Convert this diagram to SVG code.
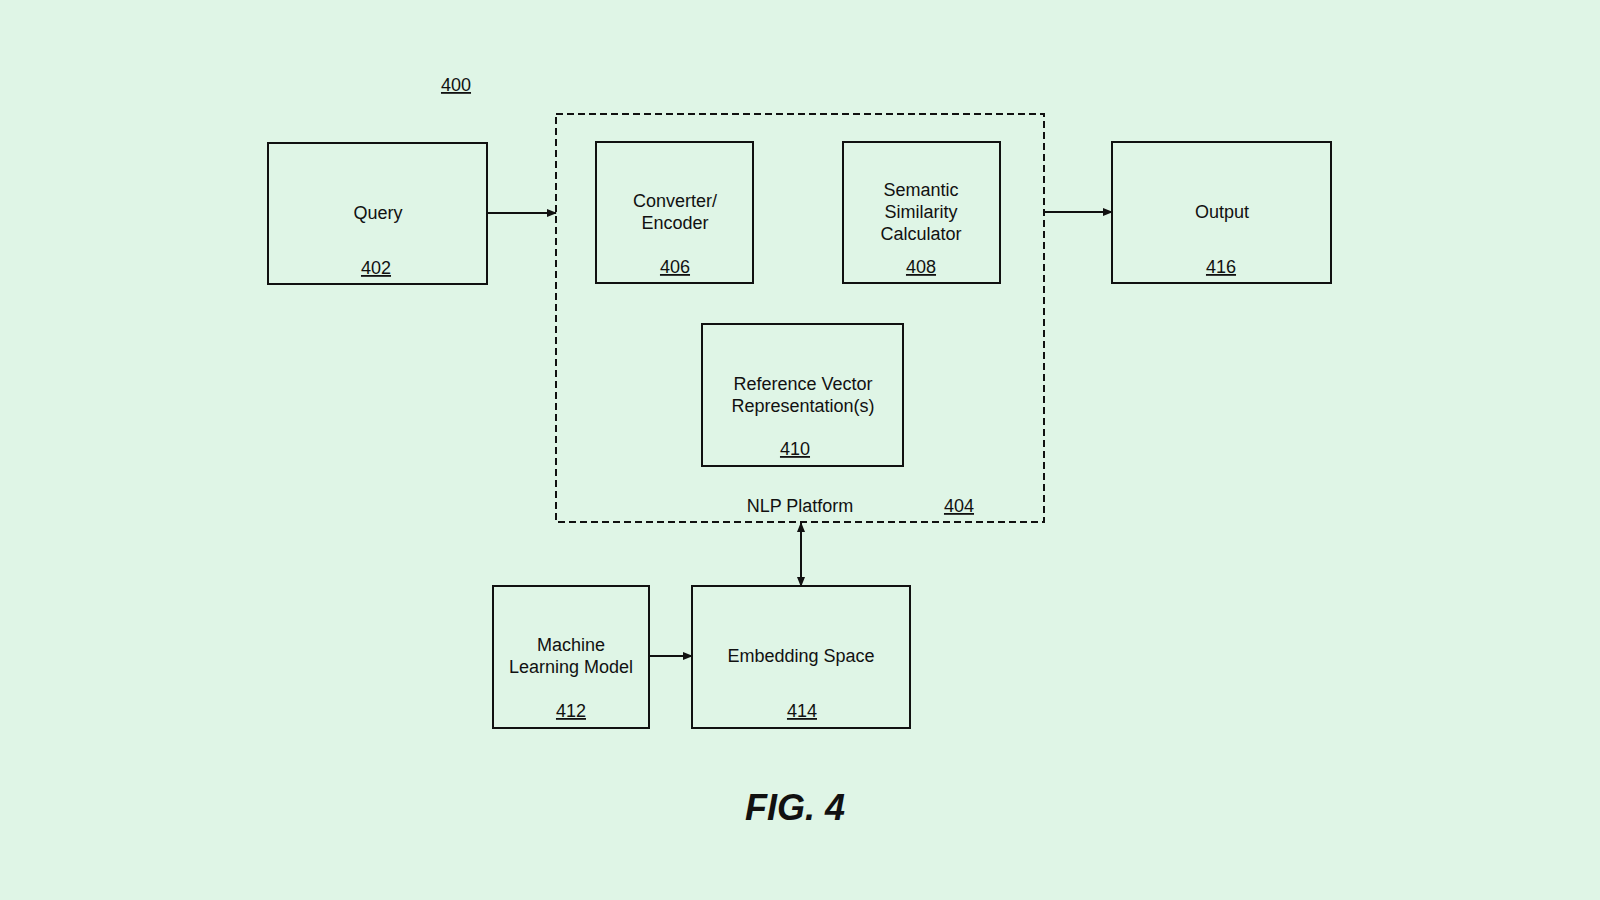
<svg xmlns="http://www.w3.org/2000/svg" width="1600" height="900" viewBox="0 0 1600 900">
<style>
.b{fill:none;stroke:#111;stroke-width:2}
.t{font-family:"Liberation Sans",Arial,sans-serif;font-size:18px;fill:#111;text-anchor:middle}
.n{text-decoration:underline}
.c{stroke:#111;stroke-width:2;fill:none}
</style>
<defs><marker id="a" markerWidth="10" markerHeight="10" refX="9" refY="5" orient="auto-start-reverse" markerUnits="userSpaceOnUse"><path d="M0,1 L10,5 L0,9 Z" fill="#111"/></marker></defs>
<rect width="1600" height="900" fill="#dff5e6"/>
<text class="t n" x="456" y="91">400</text>
<g id="n404"><rect x="556" y="114" width="488" height="408" class="b" stroke-dasharray="7,4"/><text class="t" x="800" y="512">NLP Platform</text><text class="t n" x="959" y="512">404</text></g>
<g id="n402"><rect x="268" y="143" width="219" height="141" class="b"/><text class="t" x="378" y="219">Query</text><text class="t n" x="376" y="274">402</text></g>
<g id="n406"><rect x="596" y="142" width="157" height="141" class="b"/><text class="t" x="675" y="207">Converter/</text><text class="t" x="675" y="229">Encoder</text><text class="t n" x="675" y="273">406</text></g>
<g id="n408"><rect x="843" y="142" width="157" height="141" class="b"/><text class="t" x="921" y="196">Semantic</text><text class="t" x="921" y="218">Similarity</text><text class="t" x="921" y="240">Calculator</text><text class="t n" x="921" y="273">408</text></g>
<g id="n416"><rect x="1112" y="142" width="219" height="141" class="b"/><text class="t" x="1222" y="218">Output</text><text class="t n" x="1221" y="273">416</text></g>
<g id="n410"><rect x="702" y="324" width="201" height="142" class="b"/><text class="t" x="803" y="390">Reference Vector</text><text class="t" x="803" y="412">Representation(s)</text><text class="t n" x="795" y="455">410</text></g>
<g id="n412"><rect x="493" y="586" width="156" height="142" class="b"/><text class="t" x="571" y="651">Machine</text><text class="t" x="571" y="673">Learning Model</text><text class="t n" x="571" y="717">412</text></g>
<g id="n414"><rect x="692" y="586" width="218" height="142" class="b"/><text class="t" x="801" y="662">Embedding Space</text><text class="t n" x="802" y="717">414</text></g>
<g id="connectors">
<line class="c" x1="487" y1="213" x2="556" y2="213" marker-end="url(#a)"/>
<line class="c" x1="1044" y1="212" x2="1112" y2="212" marker-end="url(#a)"/>
<line class="c" x1="801" y1="523" x2="801" y2="586" marker-start="url(#a)" marker-end="url(#a)"/>
<line class="c" x1="649" y1="656" x2="692" y2="656" marker-end="url(#a)"/>
</g>
<text x="795" y="820" style="font-family:'Liberation Sans',Arial,sans-serif;font-size:36px;font-weight:bold;font-style:italic;text-anchor:middle;fill:#111">FIG. 4</text>
</svg>
